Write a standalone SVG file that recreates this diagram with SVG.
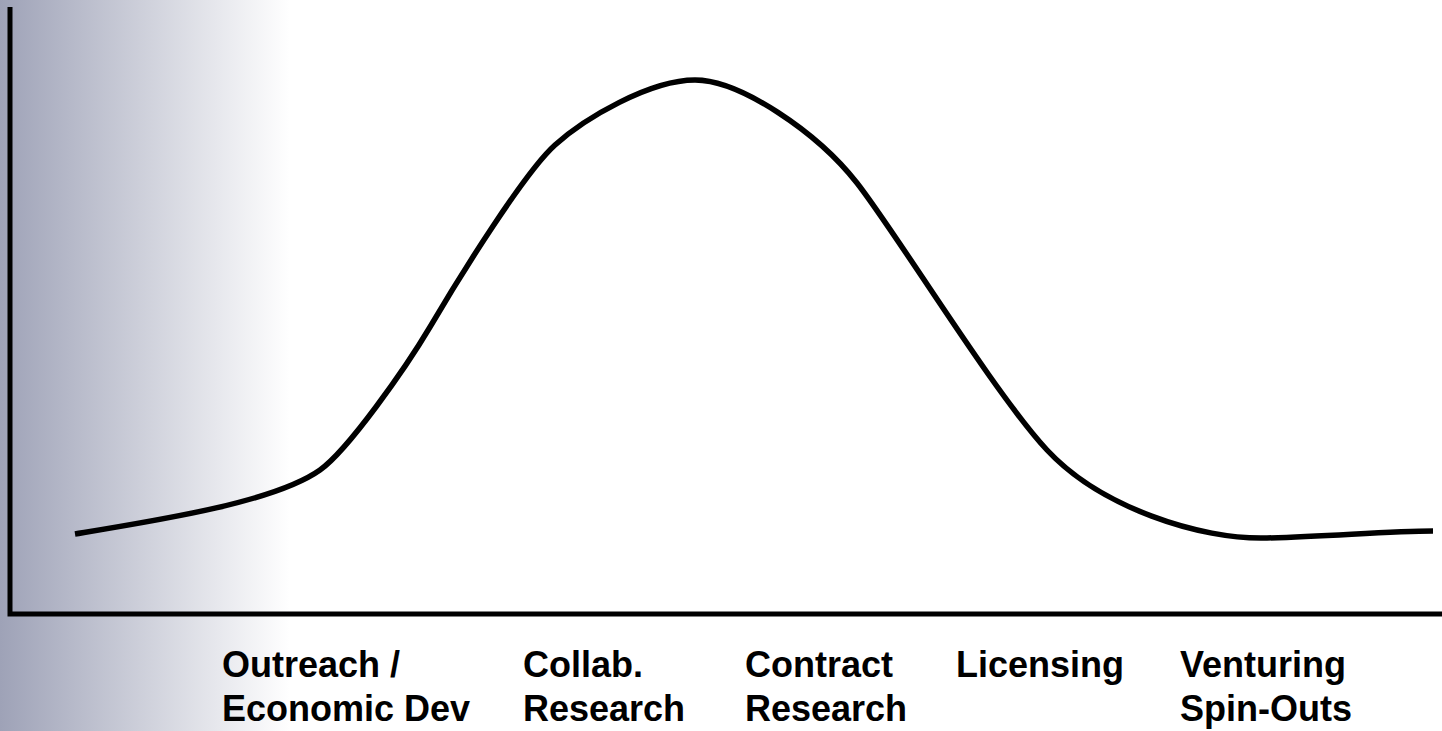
<svg xmlns="http://www.w3.org/2000/svg" width="1442" height="731" viewBox="0 0 1442 731">
<style>
.lbl{font-family:"Liberation Sans",Arial,sans-serif;font-weight:bold;font-size:36px;fill:#000}
.ax{stroke:#000;stroke-width:5;fill:none}
.crv{stroke:#000;stroke-width:5.5;fill:none;stroke-linecap:butt}
</style>
<defs>
<linearGradient id="bg" x1="0" y1="0" x2="290" y2="0" gradientUnits="userSpaceOnUse">
<stop offset="0" stop-color="#9ea2b7"/>
<stop offset="1" stop-color="#ffffff"/>
</linearGradient>
</defs>
<rect x="0" y="0" width="1442" height="731" fill="#fff"/>
<rect x="0" y="0" width="290" height="731" fill="url(#bg)"/>
<g id="axes">
<path class="ax" d="M10,7 V614 H1442"/>
</g>
<g id="connectors">
<path class="crv" d="M75,534 C160,520 275,502 320,470 C348,450 405,369 430,327 C462,272.6 525,172 555,145 C585,118 650,80 695,80 C740,80 817,132 857,183 C897,234 994,393 1047,450 C1100,507 1200,540 1267,538 C1334,536 1390,531 1433,531"/>
</g>
<g id="labels">
<g id="n1"><text class="lbl" x="222" y="677">Outreach /</text><text class="lbl" x="222" y="721">Economic Dev</text></g>
<g id="n2"><text class="lbl" x="523" y="677">Collab.</text><text class="lbl" x="523" y="721">Research</text></g>
<g id="n3"><text class="lbl" x="745" y="677">Contract</text><text class="lbl" x="745" y="721">Research</text></g>
<g id="n4"><text class="lbl" x="956" y="677">Licensing</text></g>
<g id="n5"><text class="lbl" x="1180" y="677">Venturing</text><text class="lbl" x="1180" y="721">Spin-Outs</text></g>
</g>
</svg>
